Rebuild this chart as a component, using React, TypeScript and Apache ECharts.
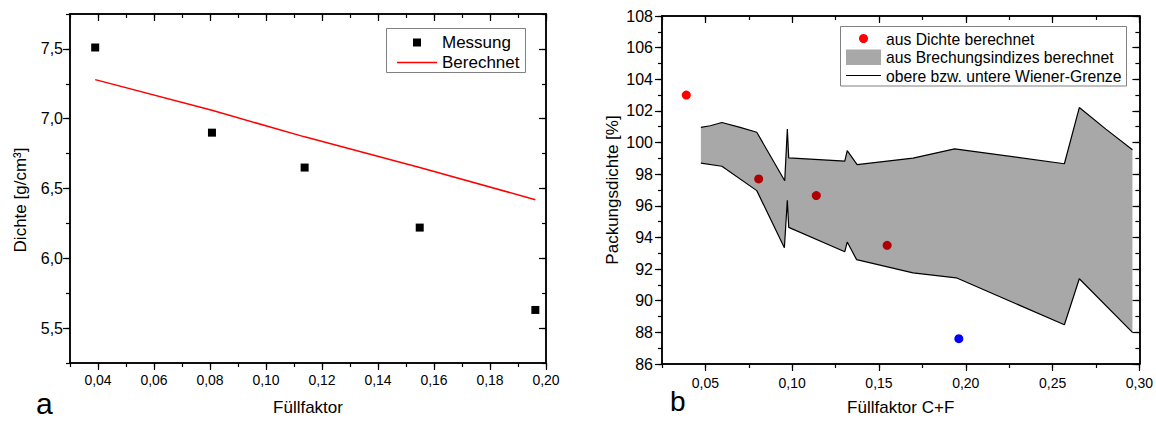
import React, { useEffect, useRef } from "react";
import * as echarts from "echarts";

const FONT = "'Liberation Sans', Arial, Helvetica, sans-serif";

// ---- Panel a: density vs. fill factor ----
const fillFactor = [0.039, 0.0807, 0.1138, 0.1549, 0.1962];
const densityMeasured = [7.51, 6.9, 6.65, 6.22, 5.63];
const densityCalculated = [7.28, 7.06, 6.87, 6.65, 6.42];
const aXTicks = [0.04, 0.06, 0.08, 0.1, 0.12, 0.14, 0.16, 0.18, 0.2];
const aYTicks = [5.5, 6.0, 6.5, 7.0, 7.5];

// ---- Panel b: packing density vs. fill factor C+F ----
const fillFactorCF = [0.039, 0.0807, 0.1139, 0.1547, 0.196];
const packingFromDensity = [103.0, 97.7, 96.65, 93.5, 87.6];
const wienerUpperX = [0.0474, 0.0528, 0.0595, 0.07, 0.0796, 0.0957, 0.0972, 0.098, 0.1303, 0.1317, 0.1374, 0.1696, 0.1936, 0.2568, 0.2654, 0.2807, 0.296];
const wienerUpperY = [100.96, 101.06, 101.27, 100.96, 100.65, 97.58, 100.85, 99.03, 98.83, 99.49, 98.6, 99.02, 99.6, 98.66, 102.21, 100.85, 99.54];
const wienerLowerX = [0.0474, 0.0595, 0.0796, 0.0955, 0.0972, 0.098, 0.1303, 0.1317, 0.1371, 0.1696, 0.1945, 0.2568, 0.2654, 0.296];
const wienerLowerY = [98.7, 98.5, 96.96, 93.35, 96.35, 94.64, 93.1, 93.71, 92.6, 91.76, 91.45, 88.48, 91.39, 88.0];
const bXTicks = [0.05, 0.1, 0.15, 0.2, 0.25, 0.3];
const bYTicks = [86, 88, 90, 92, 94, 96, 98, 100, 102, 104, 106, 108];

const dotColors = ["#ff0000", "#b00000", "#b00000", "#b00000", "#0000ff"];
const bandFill = "#a8a8a8";

const zip = (xs: number[], ys: number[]) => xs.map((x, i) => [x, ys[i]]);
const comma = (digits: number) => (v: number) => v.toFixed(digits).replace(".", ",");

type AxisSpec = {
  grid: number;
  min: number;
  max: number;
  step: number;
  majors: number[];
  position: string;
  inside: boolean;
  labels?: boolean;
  fmt?: (v: number) => string;
  labelSize?: number;
  labelMargin?: number;
  name?: string;
  nameGap?: number;
};

// Each frame side gets two overlapping axes: one carrying short minor ticks,
// one carrying the longer major ticks (and, on bottom/left, the labels).
function axisPair(s: AxisSpec) {
  const axisLine = { show: true, onZero: false, lineStyle: { color: "#000", width: 1.5 } };
  const tickLine = { color: "#000", width: 1.2 };
  const minor: any = {
    type: "value",
    gridIndex: s.grid,
    min: s.min,
    max: s.max,
    interval: s.step,
    position: s.position,
    axisLine,
    axisTick: { show: true, inside: s.inside, length: 4, lineStyle: tickLine },
    axisLabel: { show: false },
    splitLine: { show: false },
  };
  const major: any = {
    type: "value",
    gridIndex: s.grid,
    min: s.min,
    max: s.max,
    position: s.position,
    axisLine,
    axisTick: { show: true, inside: s.inside, length: 7, customValues: s.majors, lineStyle: tickLine },
    axisLabel: s.labels
      ? {
          show: true,
          customValues: s.majors,
          formatter: s.fmt,
          fontFamily: FONT,
          fontSize: s.labelSize ?? 14,
          color: "#000",
          margin: s.labelMargin ?? 8,
        }
      : { show: false },
    splitLine: { show: false },
  };
  if (s.name) {
    major.name = s.name;
    major.nameLocation = "middle";
    major.nameGap = s.nameGap;
    major.nameTextStyle = { fontFamily: FONT, fontSize: 17, color: "#000" };
  }
  return [minor, major];
}

export default function App() {
  const ref = useRef<HTMLDivElement>(null);

  useEffect(() => {
    if (!ref.current) return;
    const chart = echarts.init(ref.current, undefined, { renderer: "svg" });

    const xAxis = [
      ...axisPair({ grid: 0, min: 0.03, max: 0.2, step: 0.01, majors: aXTicks, position: "bottom", inside: false, labels: true, fmt: comma(2), labelMargin: 10, name: "Füllfaktor", nameGap: 36 }),
      ...axisPair({ grid: 0, min: 0.03, max: 0.2, step: 0.01, majors: aXTicks, position: "top", inside: true }),
      ...axisPair({ grid: 1, min: 0.025, max: 0.3, step: 0.025, majors: bXTicks, position: "bottom", inside: false, labels: true, fmt: comma(2), labelMargin: 12, name: "Füllfaktor C+F", nameGap: 35 }),
      ...axisPair({ grid: 1, min: 0.025, max: 0.3, step: 0.025, majors: bXTicks, position: "top", inside: true }),
    ];
    const yAxis = [
      ...axisPair({ grid: 0, min: 5.25, max: 7.75, step: 0.25, majors: aYTicks, position: "left", inside: false, labels: true, fmt: comma(1), labelSize: 16, labelMargin: 7 }),
      ...axisPair({ grid: 0, min: 5.25, max: 7.75, step: 0.25, majors: aYTicks, position: "right", inside: true }),
      ...axisPair({ grid: 1, min: 86, max: 108, step: 1, majors: bYTicks, position: "left", inside: false, labels: true, fmt: (v: number) => String(v), labelSize: 16, labelMargin: 9, name: "Packungsdichte [%]", nameGap: 41 }),
      ...axisPair({ grid: 1, min: 86, max: 108, step: 1, majors: bYTicks, position: "right", inside: true }),
    ];

    const legendText = (x: number, y: number, text: string, size: number) => ({
      type: "text",
      x,
      y,
      style: { text, fontFamily: FONT, fontSize: size, fill: "#000", verticalAlign: "middle", align: "left" },
    });

    chart.setOption({
      animation: false,
      backgroundColor: "#fff",
      grid: [
        { left: 70, top: 14, width: 476, height: 349, containLabel: false },
        { left: 662, top: 16, width: 478, height: 351, containLabel: false },
      ],
      xAxis,
      yAxis,
      series: [
        {
          type: "scatter",
          name: "Messung",
          xAxisIndex: 1,
          yAxisIndex: 1,
          data: zip(fillFactor, densityMeasured),
          symbol: "rect",
          symbolSize: 8,
          itemStyle: { color: "#000", opacity: 1 },
          z: 4,
        },
        {
          type: "line",
          name: "Berechnet",
          xAxisIndex: 1,
          yAxisIndex: 1,
          data: zip(fillFactor, densityCalculated),
          symbol: "none",
          lineStyle: { color: "#ff0000", width: 1.5 },
          z: 3,
        },
        {
          type: "custom",
          name: "aus Brechungsindizes berechnet",
          xAxisIndex: 5,
          yAxisIndex: 5,
          data: [[wienerUpperX[0], wienerUpperY[0]]],
          silent: true,
          z: 1,
          renderItem: (_params: any, api: any) => {
            const upper = wienerUpperX.map((x, i) => api.coord([x, wienerUpperY[i]]));
            const lower = wienerLowerX.map((x, i) => api.coord([x, wienerLowerY[i]])).reverse();
            return {
              type: "polygon",
              shape: { points: [...upper, ...lower] },
              style: { fill: bandFill, stroke: "none" },
            };
          },
        },
        {
          type: "line",
          name: "obere Wiener-Grenze",
          xAxisIndex: 5,
          yAxisIndex: 5,
          data: zip(wienerUpperX, wienerUpperY),
          symbol: "none",
          lineStyle: { color: "#000", width: 1.2 },
          z: 3,
        },
        {
          type: "line",
          name: "untere Wiener-Grenze",
          xAxisIndex: 5,
          yAxisIndex: 5,
          data: zip(wienerLowerX, wienerLowerY),
          symbol: "none",
          lineStyle: { color: "#000", width: 1.2 },
          z: 3,
        },
        {
          type: "scatter",
          name: "aus Dichte berechnet",
          xAxisIndex: 5,
          yAxisIndex: 5,
          data: fillFactorCF.map((x, i) => ({
            value: [x, packingFromDensity[i]],
            itemStyle: { color: dotColors[i], opacity: 1 },
          })),
          symbol: "circle",
          symbolSize: 9,
          z: 4,
        },
      ],
      graphic: [
        // y-axis title, panel a
        {
          type: "text",
          x: 20,
          y: 200,
          rotation: Math.PI / 2,
          style: { text: "Dichte [g/cm³]", fontFamily: FONT, fontSize: 17, fill: "#000", align: "center", verticalAlign: "middle" },
        },
        // legend, panel a
        { type: "rect", shape: { x: 386.5, y: 28.5, width: 139, height: 44 }, style: { fill: "#fff", stroke: "#808080", lineWidth: 1 }, z: 10 },
        { type: "rect", shape: { x: 413, y: 38.5, width: 8, height: 8 }, style: { fill: "#000" }, z: 11 },
        { type: "line", shape: { x1: 397, y1: 62.5, x2: 437, y2: 62.5 }, style: { stroke: "#ff0000", lineWidth: 1.5 }, z: 11 },
        { ...legendText(442, 42.5, "Messung", 17), z: 11 },
        { ...legendText(442, 62.5, "Berechnet", 17), z: 11 },
        // legend, panel b
        { type: "rect", shape: { x: 840.5, y: 26.5, width: 286, height: 59.5 }, style: { fill: "#fff", stroke: "#808080", lineWidth: 1 }, z: 10 },
        { type: "circle", shape: { cx: 863.5, cy: 38.5, r: 4.5 }, style: { fill: "#ff0000" }, z: 11 },
        { type: "rect", shape: { x: 846, y: 49.5, width: 35, height: 15.5 }, style: { fill: bandFill }, z: 11 },
        { type: "line", shape: { x1: 846, y1: 75.5, x2: 881, y2: 75.5 }, style: { stroke: "#000", lineWidth: 1.2 }, z: 11 },
        { ...legendText(886, 39, "aus Dichte berechnet", 15.7), z: 11 },
        { ...legendText(886, 57.5, "aus Brechungsindizes berechnet", 15.7), z: 11 },
        { ...legendText(886, 76, "obere bzw. untere Wiener-Grenze", 15.7), z: 11 },
        // panel letters
        { type: "text", x: 36, y: 403, style: { text: "a", fontFamily: FONT, fontSize: 30, fill: "#000", verticalAlign: "middle" }, z: 11 },
        { type: "text", x: 670, y: 401, style: { text: "b", fontFamily: FONT, fontSize: 28, fill: "#000", verticalAlign: "middle" }, z: 11 },
      ],
    });

    return () => chart.dispose();
  }, []);

  return (
    <div
      ref={ref}
      style={{ position: "fixed", left: 0, top: 0, width: 1156, height: 421, background: "#fff" }}
    />
  );
}
